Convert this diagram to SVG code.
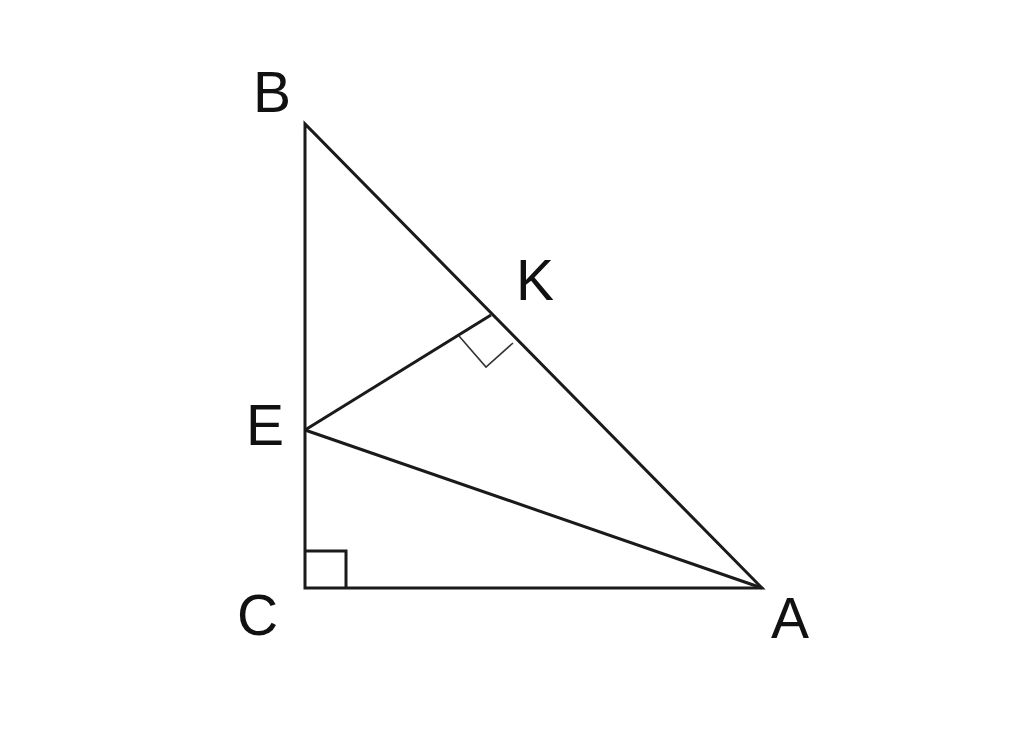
<svg xmlns="http://www.w3.org/2000/svg" width="1024" height="744" viewBox="0 0 1024 744">
<style>
.l{stroke:#1a1a1a;stroke-width:3;fill:none;stroke-linejoin:miter}
.t{font-family:"Liberation Sans",Arial,sans-serif;font-size:57px;fill:#111}
</style>
<rect width="1024" height="744" fill="#fff"/>
<g id="connectors">
<polygon class="l" points="305,124 305,588 762,588"/>
<line class="l" x1="305" y1="430" x2="491" y2="315"/>
<line class="l" x1="305" y1="430" x2="762" y2="588"/>
<polyline class="l" points="305,551 346,551 346,588"/>
<polyline points="459,336 486,367 513,343" fill="none" stroke="#333" stroke-width="1.6"/>
</g>
<g id="B"><text class="t" x="253" y="112">B</text></g>
<g id="K"><text class="t" x="516" y="300">K</text></g>
<g id="E"><text class="t" x="246" y="445">E</text></g>
<g id="C"><text class="t" x="237" y="635">C</text></g>
<g id="A"><text class="t" x="771" y="638">A</text></g>
</svg>
